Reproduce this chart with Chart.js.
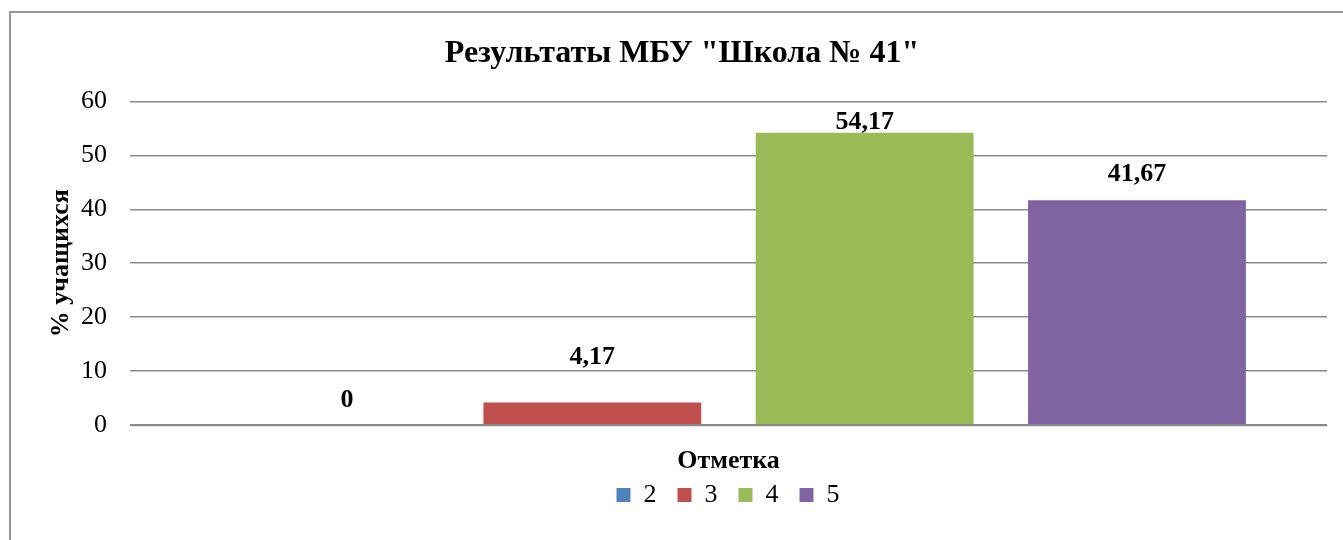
<!DOCTYPE html>
<html>
<head>
<meta charset="utf-8">
<script src="https://cdn.jsdelivr.net/npm/chart.js@4"></script>
<style>
  html, body { margin:0; padding:0; background:#fff; overflow:hidden; }
  .frame { position:absolute; left:9px; top:11px; width:1400px; height:600px; border:2px solid #969696; box-sizing:border-box; }
  .wrap { position:absolute; left:0; top:0; width:1343px; height:540px; }
</style>
</head>
<body>
<div class="frame"></div>
<div class="wrap"><canvas id="c" width="1343" height="540"></canvas></div>
<script>
// Результаты по отметкам, % учащихся
const categories = ['Отметка'];
const marks = ['2', '3', '4', '5'];
const values = [0, 4.17, 54.17, 41.67];
const colors = ['#4F81BD', '#C0504D', '#9BBB59', '#8064A2'];
const yTicks = [0, 10, 20, 30, 40, 50, 60];

const FONT = "'Liberation Serif', 'Times New Roman', serif";

// подписи значений над столбцами (в оригинале сдвинуты вручную)
const valueLabels = {
  id: 'valueLabels',
  afterDatasetsDraw(chart, args, opts) {
    const ctx = chart.ctx;
    ctx.save();
    ctx.font = 'bold 26px ' + FONT;
    ctx.fillStyle = '#000';
    ctx.textAlign = 'center';
    ctx.textBaseline = 'middle';
    chart.data.datasets.forEach((ds, i) => {
      const bar = chart.getDatasetMeta(i).data[0];
      ctx.fillText(String(ds.data[0]).replace('.', ','), bar.x + opts.dx[i], bar.y - opts.lift[i]);
    });
    ctx.restore();
  }
};

// легенда в оригинале смещена вправо
const legendShift = {
  id: 'legendShift',
  afterLayout(chart) {
    if (!chart.legend) return;
    chart.legend.left += 46;
    chart.legend.right += 46;
  }
};

new Chart(document.getElementById('c'), {
  type: 'bar',
  data: {
    labels: categories,
    datasets: marks.map((m, i) => ({
      label: m, data: [values[i]], backgroundColor: colors[i],
      categoryPercentage: 0.91, barPercentage: 0.8
    }))
  },
  options: {
    responsive: false, animation: false,
    layout: { padding: { left: 37, right: 16, top: 0, bottom: 22 } },
    plugins: {
      title: { display: true, text: 'Результаты МБУ "Школа № 41"', color: '#000',
        font: { family: FONT, size: 32, weight: 'bold' }, padding: { top: 35, bottom: 28 } },
      legend: { position: 'bottom',
        labels: { color: '#000', font: { family: FONT, size: 26 }, boxWidth: 14, boxHeight: 14, padding: 21 } },
      tooltip: { enabled: false },
      valueLabels: { lift: [25, 45, 11, 26], dx: [27, 0, 0, 0] }
    },
    scales: {
      x: {
        grid: { display: false }, border: { display: false },
        ticks: { display: false },
        afterFit: s => { s.height = 36; },
        title: { display: true, text: categories[0], color: '#000',
          font: { family: FONT, size: 26, weight: 'bold' }, padding: { top: 0, bottom: -15.6 } }
      },
      y: {
        min: 0, max: 60,
        afterBuildTicks: s => { s.ticks = yTicks.map(v => ({ value: v })); },
        afterFit: s => { s.width = 93; },
        grid: { color: '#8a8a8a', lineWidth: c => c.tick.value === 0 ? 2.2 : 1.5, drawTicks: false },
        border: { display: false },
        ticks: { color: '#000', font: { family: FONT, size: 26 }, padding: 23 },
        title: { display: true, text: '% учащихся', color: '#000',
          font: { family: FONT, size: 26, weight: 'bold' }, padding: { top: 9, bottom: 0 } }
      }
    }
  },
  plugins: [valueLabels, legendShift]
});
</script>
</body>
</html>
